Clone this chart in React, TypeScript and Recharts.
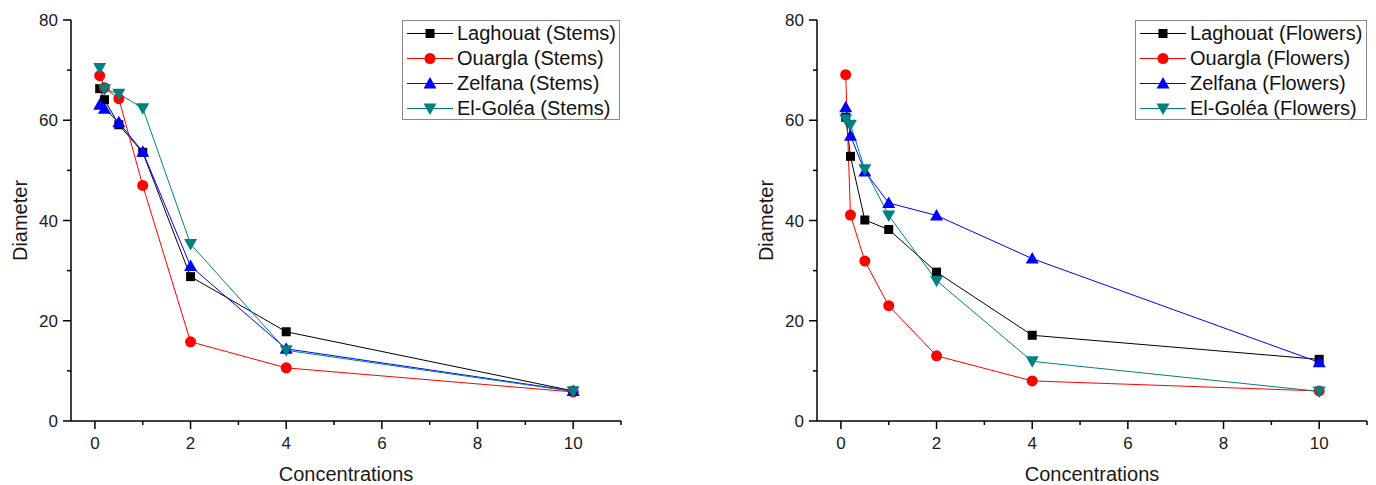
import React from "react"
import { LineChart, Line, XAxis, YAxis, Legend } from "recharts"

// concentrations tested (x values)
const concentrations = [0.1, 0.2, 0.5, 1, 2, 4, 10]

// Stems diameter
const stemsLaghouat = [66.3, 64.1, 59.1, 53.6, 28.8, 17.8, 6.0]
const stemsOuargla = [68.9, 66.5, 64.3, 47.0, 15.8, 10.6, 5.8]
const stemsZelfana = [63.1, 62.3, 59.6, 53.7, 30.9, 14.4, 6.0]
const stemsElGolea = [70.4, 66.2, 65.3, 62.4, 35.3, 14.1, 5.9]

// Flowers diameter
const flowersLaghouat = [60.6, 52.8, 40.1, 38.2, 29.7, 17.1, 12.3]
const flowersOuargla = [69.1, 41.1, 31.9, 23.0, 13.0, 8.0, 6.0]
const flowersZelfana = [62.6, 56.9, 49.8, 43.5, 41.0, 32.4, 11.7]
const flowersElGolea = [60.2, 59.1, 50.2, 41.0, 28.0, 11.9, 5.9]

const xTicks = [0, 1, 2, 3, 4, 5, 6, 7, 8, 9, 10, 11]
const yTicks = [0, 10, 20, 30, 40, 50, 60, 70, 80]

const FONT = "'Liberation Sans', Arial, Helvetica, sans-serif"

type Shape = "square" | "circle" | "up" | "down"

const series: { key: string; place: string; color: string; shape: Shape }[] = [
  { key: "laghouat", place: "Laghouat", color: "#000000", shape: "square" },
  { key: "ouargla", place: "Ouargla", color: "#ff0000", shape: "circle" },
  { key: "zelfana", place: "Zelfana", color: "#0000ff", shape: "up" },
  { key: "elgolea", place: "El-Goléa", color: "#008080", shape: "down" },
]

function buildRows(values: number[][]) {
  return concentrations.map((x, i) => {
    const row: Record<string, number> = { x }
    series.forEach((s, j) => { row[s.key] = values[j][i] })
    return row
  })
}

const stemsData = buildRows([stemsLaghouat, stemsOuargla, stemsZelfana, stemsElGolea])
const flowersData = buildRows([flowersLaghouat, flowersOuargla, flowersZelfana, flowersElGolea])

function Marker({ cx, cy, shape, color }: { cx: number; cy: number; shape: Shape; color: string }) {
  if (cx == null || cy == null) return null
  if (shape === "square") return <rect x={cx - 4.5} y={cy - 4.5} width={9} height={9} fill={color} />
  if (shape === "circle") return <circle cx={cx} cy={cy} r={5.5} fill={color} />
  if (shape === "up") return <path d={`M${cx},${cy - 6.5} L${cx + 6.5},${cy + 5} L${cx - 6.5},${cy + 5} Z`} fill={color} />
  return <path d={`M${cx},${cy + 6.5} L${cx + 6.5},${cy - 5} L${cx - 6.5},${cy - 5} Z`} fill={color} />
}

const XTick = (props: any) => {
  const { x, y, payload } = props
  const v = payload.value
  const major = v % 2 === 0 && v <= 10
  return (
    <g>
      <line x1={x} x2={x} y1={y} y2={y + (major ? 8 : 4)} stroke="#000" strokeWidth={1.5} />
      {major && (
        <text x={x} y={y + 28} textAnchor="middle" fontSize={17} fontFamily={FONT} fill="#1a1a1a">{v}</text>
      )}
    </g>
  )
}

const YTick = (props: any) => {
  const { x, y, payload } = props
  const v = payload.value
  const major = v % 20 === 0
  return (
    <g>
      <line x1={x - (major ? 8 : 4)} x2={x} y1={y} y2={y} stroke="#000" strokeWidth={1.5} />
      {major && (
        <text x={x - 13} y={y + 6} textAnchor="end" fontSize={17} fontFamily={FONT} fill="#1a1a1a">{v}</text>
      )}
    </g>
  )
}

function LegendBox({ organ, width }: { organ: string; width: number }) {
  return (
    <div style={{
      width, height: 100, boxSizing: "border-box",
      border: "1px solid #8a8a8a", background: "#fff",
      fontFamily: FONT, fontSize: 20, color: "#111",
    }}>
      {series.map((s) => (
        <div key={s.key} style={{ display: "flex", alignItems: "center", height: 25 }}>
          <svg width={54} height={25} style={{ flexShrink: 0 }}>
            <line x1={4} x2={50} y1={12.5} y2={12.5} stroke={s.color} strokeWidth={1} />
            <Marker cx={27} cy={12.5} shape={s.shape} color={s.color} />
          </svg>
          <span style={{ whiteSpace: "nowrap", lineHeight: "25px" }}>{s.place} ({organ})</span>
        </div>
      ))}
    </div>
  )
}

function Panel({ data, organ, margin, legendLeft, legendWidth }: {
  data: Record<string, number>[]
  organ: string
  margin: { top: number; right: number; bottom: number; left: number }
  legendLeft: number
  legendWidth: number
}) {
  return (
    <LineChart width={688} height={485} data={data} margin={margin}>
      <XAxis
        type="number" dataKey="x" domain={[-0.5, 11]} ticks={xTicks} interval={0}
        allowDataOverflow height={64} tickSize={0} tickMargin={0} tickLine={false}
        axisLine={{ stroke: "#000", strokeWidth: 1.5 }} tick={<XTick />}
        label={{ value: "Concentrations", position: "center", dy: 21, fontSize: 20, fontFamily: FONT, fill: "#1a1a1a" }}
      />
      <YAxis
        type="number" domain={[0, 80]} ticks={yTicks} interval={0}
        width={71} tickSize={0} tickMargin={0} tickLine={false}
        axisLine={{ stroke: "#000", strokeWidth: 1.5 }} tick={<YTick />}
        label={{ value: "Diameter", angle: -90, position: "center", dx: -16, fontSize: 20, fontFamily: FONT, fill: "#1a1a1a" }}
      />
      {series.map((s) => (
        <Line
          key={s.key}
          type="linear"
          dataKey={s.key}
          name={`${s.place} (${organ})`}
          stroke={s.color}
          strokeWidth={1}
          isAnimationActive={false}
          activeDot={false}
          dot={(p: any) => <Marker key={`${s.key}-${p.index}`} cx={p.cx} cy={p.cy} shape={s.shape} color={s.color} />}
        />
      ))}
      <Legend
        layout="vertical" align="center" verticalAlign="middle"
        wrapperStyle={{ position: "absolute", left: legendLeft, top: 20, width: legendWidth, height: 100 }}
        content={() => <LegendBox organ={organ} width={legendWidth} />}
      />
    </LineChart>
  )
}

export default function App() {
  return (
    <div style={{ position: "absolute", left: 0, top: 0, width: 1376, height: 485, background: "#fff" }}>
      <div style={{ position: "absolute", left: 0, top: 0 }}>
        <Panel data={stemsData} organ="Stems" margin={{ top: 20, right: 67, bottom: 0, left: 0 }} legendLeft={402} legendWidth={218} />
      </div>
      <div style={{ position: "absolute", left: 688, top: 0 }}>
        <Panel data={flowersData} organ="Flowers" margin={{ top: 20, right: 9, bottom: 0, left: 58 }} legendLeft={447} legendWidth={232} />
      </div>
    </div>
  )
}
